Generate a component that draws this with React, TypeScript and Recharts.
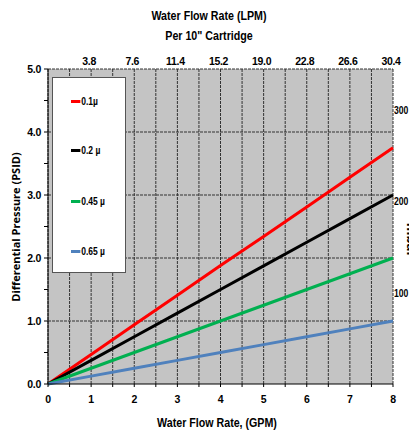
import React from "react";
import {
  LineChart,
  Line,
  XAxis,
  YAxis,
  CartesianGrid,
  ReferenceLine,
  Legend,
} from "recharts";

const gpm = [0, 1, 2, 3, 4, 5, 6, 7, 8];
const s01 = [0, 0.47, 0.94, 1.41, 1.88, 2.34, 2.81, 3.28, 3.75];
const s02 = [0, 0.375, 0.75, 1.125, 1.5, 1.875, 2.25, 2.625, 3.0];
const s045 = [0, 0.25, 0.5, 0.75, 1.0, 1.25, 1.5, 1.75, 2.0];
const s065 = [0, 0.125, 0.25, 0.375, 0.5, 0.625, 0.75, 0.875, 1.0];

const seriesNames = ["0.1µ", "0.2 µ", "0.45 µ", "0.65 µ"];
const seriesColors = ["#ff0000", "#000000", "#00b050", "#4f81bd"];

const xTicks = [0, 0.5, 1, 1.5, 2, 2.5, 3, 3.5, 4, 4.5, 5, 5.5, 6, 6.5, 7, 7.5, 8];
const yTicks = [0, 0.5, 1, 1.5, 2, 2.5, 3, 3.5, 4, 4.5, 5];
const hGrid = [1, 2, 3, 4, 5];
const topTicks = [1, 2, 3, 4, 5, 6, 7, 8];
const lpmLabels = ["3.8", "7.6", "11.4", "15.2", "19.0", "22.8", "26.6", "30.4"];
const mbarTicks = [100, 200, 300];
const mbarMax = 344.7;

const data = gpm.map((g, i) => ({
  gpm: g,
  a: s01[i],
  b: s02[i],
  c: s045[i],
  d: s065[i],
}));

const NARROW = "'Liberation Sans', Arial, sans-serif";
const FONT = "'Liberation Sans', Arial, sans-serif";
const FONT2 = "'Open Sans', sans-serif";

const tickStyle = {
  fill: "#000",
  fontSize: 10.5,
  fontWeight: "bold",
  fontFamily: FONT,
  letterSpacing: -0.3,
};

const RightTick = (props: any) => {
  const { x, y, payload } = props;
  return (
    <text
      x={0}
      y={0}
      transform={`translate(${x}, ${y + 4}) scale(0.82, 1)`}
      fill="#000"
      fontSize={10.5}
      fontWeight="bold"
      fontFamily={FONT}
      textAnchor="start"
    >
      {payload.value}
    </text>
  );
};

const LegendBox = () => (
  <div
    style={{
      position: "absolute",
      left: 52,
      top: 77,
      width: 74,
      height: 196,
      background: "#ffffff",
      border: "1px solid #555",
      boxSizing: "border-box",
    }}
  >
    {seriesNames.map((n, i) => (
      <div
        key={n}
        style={{
          position: "absolute",
          left: 18,
          top: [18, 67, 118, 168][i],
          display: "flex",
          alignItems: "center",
          fontFamily: FONT,
          fontWeight: "bold",
          fontSize: 10,
          color: "#000",
          whiteSpace: "nowrap",
          transform: "scaleX(0.85)",
          transformOrigin: "left center",
        }}
      >
        <span
          style={{
            display: "inline-block",
            width: 11,
            height: 3,
            background: seriesColors[i],
            marginRight: 1,
          }}
        />
        {n}
      </div>
    ))}
  </div>
);

const narrowText = (
  text: string,
  cx: number,
  cy: number,
  size: number,
  scale: number,
  rotate = 0,
  family = NARROW
) => (
  <div
    style={{
      position: "absolute",
      left: cx,
      top: cy,
      transform: `translate(-50%, -50%) rotate(${rotate}deg) scaleX(${scale})`,
      fontFamily: family,
      fontWeight: "bold",
      fontSize: size,
      whiteSpace: "nowrap",
      color: "#000",
      lineHeight: 1,
    }}
  >
    {text}
  </div>
);

export default function App() {
  return (
    <div
      style={{
        position: "absolute",
        left: 0,
        top: 0,
        width: 409,
        height: 431,
        overflow: "hidden",
        background: "#fff",
      }}
    >
      <div style={{ position: "absolute", left: 0, top: 0 }}>
        <LineChart
          width={440}
          height={431}
          data={data}
          margin={{ top: 49, right: 17, bottom: 0, left: 8 }}
        >
          <CartesianGrid
            horizontal={false}
            vertical={true}
            fill="#c4c4c4"
            stroke="#333"
            strokeDasharray="3 1"
            xAxisId="bottom"
            yAxisId="left"
          />
          {hGrid.map((v) => (
            <ReferenceLine
              key={v}
              y={v}
              yAxisId="left"
              xAxisId="bottom"
              stroke="#333"
              strokeDasharray="3 1"
              ifOverflow="visible"
            />
          ))}
          <XAxis
            xAxisId="bottom"
            dataKey="gpm"
            type="number"
            domain={[0, 8]}
            ticks={xTicks}
            interval={0}
            height={47}
            tickSize={3}
            tickMargin={9}
            axisLine={{ stroke: "#000", strokeWidth: 1 }}
            tickLine={{ stroke: "#000" }}
            tick={tickStyle}
            tickFormatter={(v: number) => (Number.isInteger(v) ? String(v) : "")}
          />
          <XAxis
            xAxisId="top"
            orientation="top"
            type="number"
            domain={[0, 8]}
            ticks={topTicks}
            interval={0}
            height={20}
            axisLine={false}
            tickLine={false}
            tickSize={0}
            tickMargin={4}
            tick={{ ...tickStyle, dx: -2 }}
            tickFormatter={(v: number) => lpmLabels[topTicks.indexOf(v)] ?? ""}
          />
          <YAxis
            yAxisId="left"
            type="number"
            domain={[0, 5]}
            ticks={yTicks}
            interval={0}
            width={40}
            tickSize={4}
            tickMargin={3}
            axisLine={{ stroke: "#000", strokeWidth: 1 }}
            tickLine={{ stroke: "#000" }}
            tick={tickStyle}
            tickFormatter={(v: number) => (Number.isInteger(v) ? v.toFixed(1) : "")}
          />
          <YAxis
            yAxisId="right"
            orientation="right"
            type="number"
            domain={[0, mbarMax]}
            ticks={mbarTicks}
            interval={0}
            width={30}
            axisLine={false}
            tickLine={false}
            tickSize={0}
            tickMargin={1}
            tick={<RightTick />}
          />
          <Line yAxisId="right" xAxisId="bottom" dataKey="a" stroke="none" strokeWidth={0} dot={false} activeDot={false} legendType="none" isAnimationActive={false} />
          <Line yAxisId="left" xAxisId="bottom" dataKey="a" name={seriesNames[0]} stroke={seriesColors[0]} strokeWidth={3} dot={false} isAnimationActive={false} />
          <Line yAxisId="left" xAxisId="bottom" dataKey="b" name={seriesNames[1]} stroke={seriesColors[1]} strokeWidth={3} dot={false} isAnimationActive={false} />
          <Line yAxisId="left" xAxisId="bottom" dataKey="c" name={seriesNames[2]} stroke={seriesColors[2]} strokeWidth={3} dot={false} isAnimationActive={false} />
          <Line yAxisId="left" xAxisId="bottom" dataKey="d" name={seriesNames[3]} stroke={seriesColors[3]} strokeWidth={3} dot={false} isAnimationActive={false} />
          <Legend content={() => <LegendBox />} wrapperStyle={{ position: "absolute", left: 0, top: 0, width: 0, height: 0 }} />
        </LineChart>
      </div>
      {narrowText("Water Flow Rate (LPM)", 209, 15, 13, 0.82)}
      {narrowText('Per 10" Cartridge', 209, 35, 13, 0.82)}
      {narrowText("Water Flow Rate, (GPM)", 217, 422, 13, 0.82)}
      {narrowText("Differential Pressure (PSID)", 15, 227, 11, 1, -90, FONT2)}
      {narrowText("mbar", 411, 240, 13, 1, 90, FONT2)}
    </div>
  );
}
